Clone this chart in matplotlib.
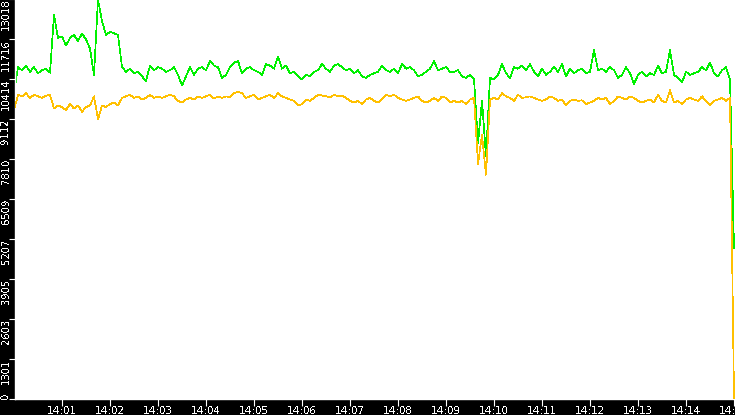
import matplotlib
matplotlib.use("Agg")
import matplotlib.pyplot as plt
import matplotlib.dates as mdates
from matplotlib.ticker import FixedLocator, FixedFormatter
import pandas as pd

start_time = "2024-01-01 14:00:00"
sample_step = "5s"

green_values = [
    9950, 10800, 10700, 10850, 10650, 10800, 10600, 10700, 10750, 10620,
    12500, 11750, 11800, 11500, 11750, 11850, 11650, 11900, 11700, 11400,
    10550, 13000, 12300, 11850, 11950, 11900, 11850, 10800, 10650, 10750,
    10600, 10650, 10500, 10350, 10850, 10700, 10800, 10750, 10650, 10700,
    10800, 10550, 10200, 10500, 10800, 10550, 10750, 10800, 10700, 11000,
    10850, 10800, 10450, 10550, 10800, 10950, 11000, 10600, 10750, 10800,
    10700, 10650, 10550, 10900, 10850, 10750, 11150, 10750, 10850, 10600,
    10650, 10500, 10400, 10550, 10500, 10650, 10700, 10900, 10750, 10650,
    10850, 10900, 10800, 10700, 10750, 10600, 10700, 10500, 10450, 10550,
    10600, 10650, 10850, 10700, 10650, 10750, 10600, 10900, 10750, 10800,
    10700, 10500, 10550, 10650, 10750, 11000, 10700, 10750, 10800, 10650,
    10650, 10700, 10500, 10450, 10550, 10400, 8330, 9700, 7900, 10450,
    10400, 10550, 10900, 10600, 10450, 10800, 10750, 10850, 10700, 10900,
    10650, 10500, 10750, 10550, 10650, 10800, 10650, 10900, 10500, 10750,
    10600, 10700, 10750, 10600, 10650, 11350, 10700, 10750, 10650, 10800,
    10700, 10450, 10550, 10800, 10600, 10250, 10550, 10650, 10500, 10600,
    10550, 10850, 10600, 10650, 11350, 10550, 10450, 10300, 10650, 10550,
    10600, 10650, 10800, 10700, 10950, 10600, 10500, 10700, 10800, 10400,
    4900,
]

orange_values = [
    9400, 9900, 9850, 9950, 9800, 9900, 9850, 9800, 9870, 9900,
    9450, 9550, 9500, 9400, 9600, 9450, 9550, 9350, 9500, 9550,
    9850, 9100, 9550, 9500, 9600, 9650, 9550, 9800, 9850, 9900,
    9800, 9850, 9750, 9800, 9900, 9800, 9850, 9800, 9850, 9900,
    9850, 9700, 9650, 9750, 9800, 9750, 9850, 9800, 9850, 9900,
    9780, 9850, 9800, 9850, 9820, 9950, 10000, 9950, 9800, 9850,
    9900, 9750, 9800, 9850, 9900, 9800, 9950, 9850, 9800, 9750,
    9700, 9550, 9600, 9750, 9700, 9800, 9900, 9880, 9850, 9820,
    9900, 9850, 9880, 9800, 9700, 9650, 9700, 9600, 9750, 9800,
    9700, 9650, 9750, 9900, 9850, 9900, 9800, 9750, 9700, 9750,
    9800, 9850, 9700, 9650, 9700, 9800, 9700, 9850, 9800, 9650,
    9700, 9650, 9700, 9600, 9750, 9800, 7650, 8600, 7300, 9750,
    9800, 9750, 9950, 9850, 9800, 9700, 9900, 9800, 9820, 9850,
    9800, 9750, 9700, 9750, 9850, 9800, 9700, 9750, 9550, 9700,
    9750, 9700, 9720, 9600, 9650, 9700, 9800, 9750, 9800, 9600,
    9700, 9850, 9800, 9750, 9850, 9800, 9700, 9650, 9700, 9750,
    9650, 9900, 9700, 9650, 10050, 9650, 9700, 9600, 9750, 9800,
    9750, 9700, 9850, 9700, 9550, 9700, 9750, 9800, 9700, 9800,
    0,
]

y_tick_values = [0, 1301.8, 2603.6, 3905.4, 5207.2, 6509.0, 7810.8, 9112.6, 10414.4, 11716.2, 13018.0]
y_tick_labels = ["0", "1301", "2603", "3905", "5207", "6509", "7810", "9112", "10414", "11716", "13018"]

times = pd.date_range(start_time, periods=len(green_values), freq=sample_step)

plt.rcParams["text.antialiased"] = False

W, H = 735, 415
fig = plt.figure(figsize=(W / 100, H / 100), dpi=100, facecolor="black")
ax = fig.add_axes([15 / W, 16 / H, 719.5 / W, 400 / H])
ax.set_facecolor("white")

ax.plot(times, green_values, color="#00f000", lw=0.5, antialiased=False, zorder=2)
ax.plot(times, orange_values, color="#ffc000", lw=0.5, antialiased=False, zorder=3)

t0 = pd.Timestamp(start_time)
ax.set_xlim(t0 + pd.Timedelta(seconds=1.25), t0 + pd.Timedelta(seconds=900.6))
ax.set_ylim(0, 13018)

ax.xaxis.set_major_locator(mdates.MinuteLocator())
ax.xaxis.set_major_formatter(mdates.DateFormatter("%H:%M"))
ax.yaxis.set_major_locator(FixedLocator(y_tick_values))
ax.yaxis.set_major_formatter(FixedFormatter(y_tick_labels))

for s in ["top", "right"]:
    ax.spines[s].set_visible(False)
for s in ["left", "bottom"]:
    ax.spines[s].set_color("white")
    ax.spines[s].set_linewidth(1.0)

ax.tick_params(axis="x", colors="white", length=5, width=0.8, pad=0, labelsize=7.5)
ax.tick_params(axis="y", colors="white", length=4, width=0.8, pad=-1, labelsize=7.2)
for k, lab in enumerate(ax.get_yticklabels()):
    lab.set_rotation(90)
    lab.set_va("bottom" if k == 0 else "top")
    lab.set_ha("right")

fig.savefig("out.png", dpi=100, facecolor="black")
